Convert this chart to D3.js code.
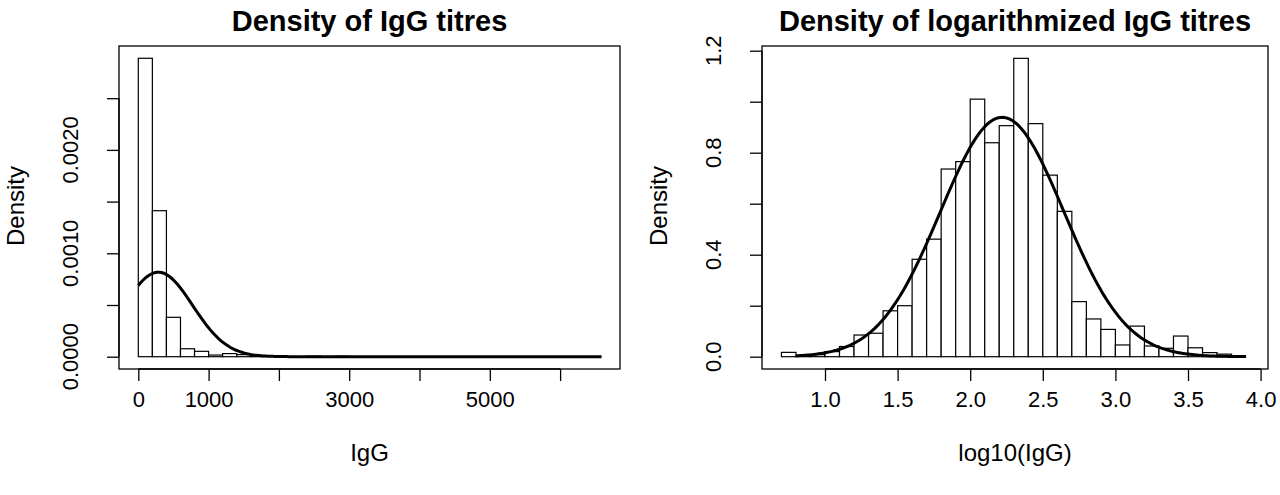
<!DOCTYPE html>
<html><head><meta charset="utf-8">
<script src="https://cdn.jsdelivr.net/npm/d3@7"></script>
<style>body{margin:0;background:#fff}text{font-family:"Liberation Sans",Arial,sans-serif;fill:#000}</style>
</head><body><svg id="c" width="1280" height="495"></svg>
<script>
// Left panel: IgG histogram (bin width 200)
const igBinStarts = [0,200,400,600,800,1000,1200,1400,1600,2400,2800];
const igDensity   = [0.002886,0.001412,0.000381,0.000077,0.000052,0.000016,0.000030,0.000020,0.000004,0.000005,0.000004];
const igBinWidth = 200;
const igMean = 285, igSd = 488, igCurveRange = [0, 6590];
const igXTicks = [0,1000,2000,3000,4000,5000,6000];
const igXLabels = ["0","1000","","3000","","5000",""];
const igYTicks = [0,0.0005,0.001,0.0015,0.002,0.0025];
const igYLabels = ["0.0000","","0.0010","","0.0020",""];
// Right panel: log10(IgG) histogram (bin width 0.1)
const lgBinStarts = [0.7,0.8,0.9,1.0,1.1,1.2,1.3,1.4,1.5,1.6,1.7,1.8,1.9,2.0,2.1,2.2,2.3,2.4,2.5,2.6,2.7,2.8,2.9,3.0,3.1,3.2,3.3,3.4,3.5,3.6,3.7];
const lgDensity   = [0.017,0.004,0.008,0.02,0.04,0.085,0.092,0.18,0.2,0.382,0.461,0.736,0.765,1.01,0.839,0.906,1.17,0.914,0.712,0.57,0.216,0.148,0.107,0.046,0.12,0.042,0.033,0.081,0.035,0.016,0.01];
const lgBinWidth = 0.1;
const lgMean = 2.22, lgSd = 0.425, lgCurveRange = [0.8, 3.9];
const lgXTicks = [1.0,1.5,2.0,2.5,3.0,3.5,4.0];
const lgXLabels = ["1.0","1.5","2.0","2.5","3.0","3.5","4.0"];
const lgYTicks = [0,0.2,0.4,0.6,0.8,1.0,1.2];
const lgYLabels = ["0.0","","0.4","","0.8","","1.2"];

const svg = d3.select("#c");
function panel(o){
  const g = svg.append("g");
  const x = d3.scaleLinear().domain(o.xd).range(o.xr);
  const y = d3.scaleLinear().domain(o.yd).range(o.yr);
  g.append("rect").attr("x",o.box[0]).attr("y",o.box[1]).attr("width",o.box[2]-o.box[0]).attr("height",o.box[3]-o.box[1])
    .attr("fill","none").attr("stroke","#000").attr("stroke-width",1.3);
  g.selectAll(".bar").data(o.starts).join("rect")
    .attr("x",d=>x(d)).attr("width",d=>x(d+o.bw)-x(d))
    .attr("y",(d,i)=>y(o.dens[i])).attr("height",(d,i)=>y(0)-y(o.dens[i]))
    .attr("fill","#fff").attr("stroke","#000").attr("stroke-width",1.2);
  const pts = d3.range(0,201).map(k=>{const v=o.cr[0]+(o.cr[1]-o.cr[0])*k/200;
    return [v, Math.exp(-0.5*((v-o.mu)/o.sd)**2)/(o.sd*Math.sqrt(2*Math.PI))];});
  g.append("path").attr("d",d3.line().x(d=>x(d[0])).y(d=>y(d[1]))(pts))
    .attr("fill","none").attr("stroke","#000").attr("stroke-width",3);
  const xa = g.append("g").attr("transform",`translate(0,${o.box[3]})`)
    .call(d3.axisBottom(x).tickValues(o.xt).tickFormat((d,i)=>o.xl[i]).tickSize(12).tickPadding(10));
  const ya = g.append("g").attr("transform",`translate(${o.box[0]},0)`)
    .call(d3.axisLeft(y).tickValues(o.yt).tickFormat("").tickSize(12));
  [xa,ya].forEach(a=>{a.select(".domain").attr("stroke-width",1.3);a.selectAll("line").attr("stroke-width",1.3);});
  xa.select(".domain").attr("d",`M${x(o.xt[0])},0H${x(o.xt[o.xt.length-1])}`);
  ya.select(".domain").attr("d",`M0,${y(o.yt[0])}V${y(o.yt[o.yt.length-1])}`);
  xa.selectAll("text").attr("font-size",22).style("font-family","Liberation Sans, Arial");
  o.yt.forEach((t,i)=>{ if(o.yl[i]) g.append("text").attr("transform",`translate(${o.box[0]-49},${y(t)}) rotate(-90)`)
    .attr("text-anchor","middle").attr("dy","0.35em").attr("font-size",22).text(o.yl[i]);});
  g.append("text").attr("x",(o.box[0]+o.box[2])/2).attr("y",31).attr("text-anchor","middle")
    .attr("font-size",29).attr("font-weight","bold").text(o.title);
  g.append("text").attr("x",(o.box[0]+o.box[2])/2).attr("y",461).attr("text-anchor","middle")
    .attr("font-size",24).text(o.xlab);
  g.append("text").attr("transform",`translate(${o.box[0]-103},206) rotate(-90)`).attr("text-anchor","middle")
    .attr("dy","0.35em").attr("font-size",24).text("Density");
}
panel({box:[119,46,620,369], xd:[0,1000], xr:[138.3,208.6], yd:[0,0.0005], yr:[356.7,305],
  starts:igBinStarts, dens:igDensity, bw:igBinWidth, mu:igMean, sd:igSd, cr:igCurveRange,
  xt:igXTicks, xl:igXLabels, yt:igYTicks, yl:igYLabels, title:"Density of IgG titres", xlab:"IgG"});
panel({box:[762,46,1268,369], xd:[1,1.5], xr:[825,897.6], yd:[0,0.2], yr:[356.7,305.7],
  starts:lgBinStarts, dens:lgDensity, bw:lgBinWidth, mu:lgMean, sd:lgSd, cr:lgCurveRange,
  xt:lgXTicks, xl:lgXLabels, yt:lgYTicks, yl:lgYLabels, title:"Density of logarithmized IgG titres", xlab:"log10(IgG)"});
</script></body></html>
